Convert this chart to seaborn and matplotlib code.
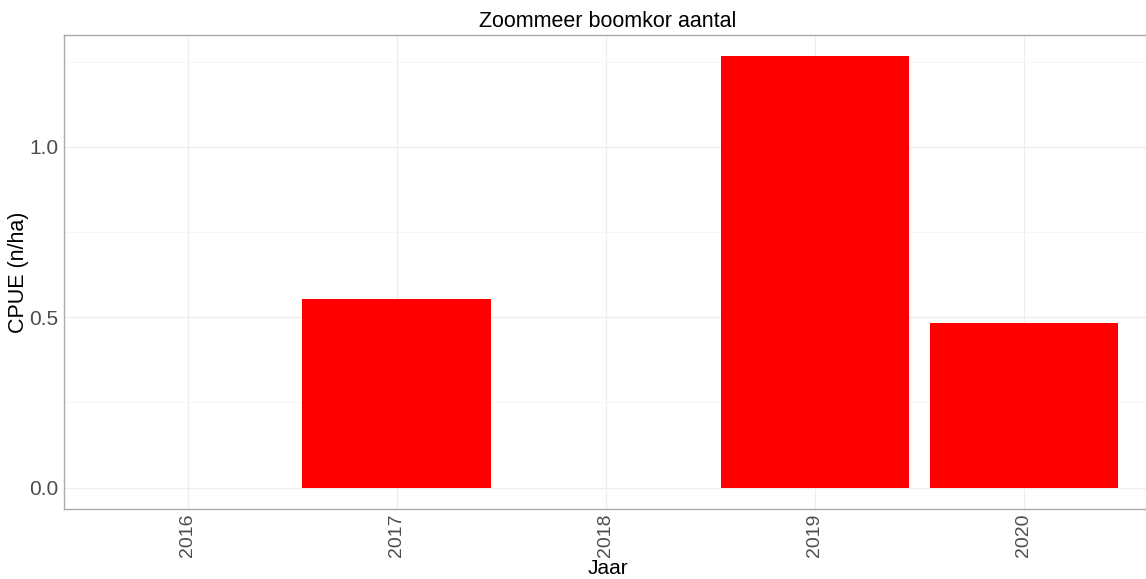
import numpy as np
import pandas as pd
import matplotlib
matplotlib.use("Agg")
import matplotlib.pyplot as plt
import seaborn as sns
from matplotlib.ticker import MultipleLocator

# data
years = ["2016", "2017", "2018", "2019", "2020"]
cpue = [0.0, 0.553, 0.0, 1.265, 0.483]

df = pd.DataFrame({"Jaar": years, "CPUE": cpue})

sns.set_style("white")
plt.rcParams["font.family"] = ["Liberation Sans", "DejaVu Sans"]

fig = plt.figure(figsize=(11.46, 5.79), dpi=100)
# panel runs a bit past the right edge of the figure, like the reference
ax = fig.add_axes([0.0560, 0.1209, 0.9485, 0.8187])

sns.barplot(data=df, x="Jaar", y="CPUE", order=years, color="#FF0000",
            saturation=1, width=0.9, linewidth=0, errorbar=None, ax=ax, zorder=3)

ax.set_xlim(-0.59, 4.61)
ax.set_ylim(-0.063, 1.328)
ax.yaxis.set_major_locator(MultipleLocator(0.5))
ax.yaxis.set_minor_locator(MultipleLocator(0.25))
ax.yaxis.set_major_formatter(matplotlib.ticker.FormatStrFormatter("%.1f"))

ax.grid(True, which="major", color="#EEEEEE", linewidth=0.9, zorder=0)
ax.grid(True, which="minor", axis="y", color="#F5F5F5", linewidth=0.6, zorder=0)
ax.set_axisbelow(True)

for side in ["left", "bottom", "top", "right"]:
    ax.spines[side].set_color("#AAAAAA")
    ax.spines[side].set_linewidth(1.0)

ax.tick_params(axis="both", which="major", length=3, width=0.8, color="#AAAAAA",
               labelsize=15, labelcolor="#4D4D4D", pad=1)
ax.tick_params(axis="x", which="major", labelsize=14, pad=0.5)
ax.tick_params(axis="y", which="minor", length=0)
plt.setp(ax.get_xticklabels(), rotation=90, va="top", ha="center")

ax.set_xlabel("Jaar", fontsize=15, color="black", labelpad=1.5)
ax.set_ylabel("CPUE (n/ha)", fontsize=15.5, color="black", labelpad=0)
ax.set_title("Zoommeer boomkor aantal", fontsize=15.5, color="black", pad=6)

fig.savefig("out.png", dpi=100)
